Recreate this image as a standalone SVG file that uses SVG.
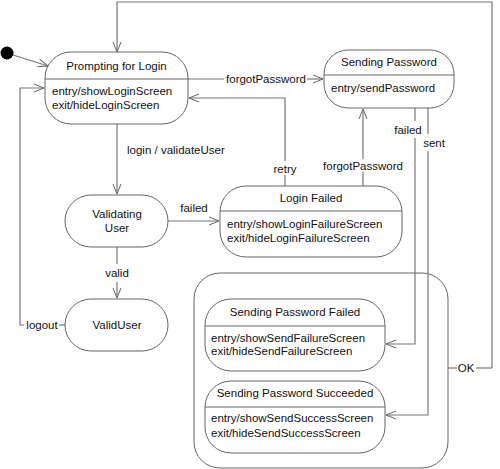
<svg xmlns="http://www.w3.org/2000/svg" width="500" height="469" viewBox="0 0 500 469">
<defs>
<marker id="arr" markerWidth="12" markerHeight="10" refX="11" refY="5" orient="auto" markerUnits="userSpaceOnUse">
<path d="M1,1 L11,5 L1,9" fill="none" stroke="#666" stroke-width="1"/>
</marker>
<style>
.box{fill:#fff;stroke:#666;stroke-width:1}
.div{stroke:#666;stroke-width:1}
.ln{fill:none;stroke:#777;stroke-width:1.2}
text{font-family:"Liberation Sans",Arial,sans-serif;font-size:11.5px;fill:#111}
.c{text-anchor:middle}
</style>
</defs>
<rect width="500" height="469" fill="#fff"/>

<g id="sendingContainer">
<rect class="box" x="194" y="273" width="254" height="195" rx="26" ry="26"/>
</g>

<g id="connectors">
<path class="ln" d="M13,55 L48,66" marker-end="url(#arr)"/>
<path class="ln" d="M492,368 L492,2 L117,2 L117,52" marker-end="url(#arr)"/>
<path class="ln" d="M476,368 L492,368"/>
<path class="ln" d="M448,368 L457,368"/>
<text class="c" x="466" y="372">OK</text>
<path class="ln" d="M188,79 L224,79"/>
<path class="ln" d="M307,79 L323,79" marker-end="url(#arr)"/>
<text class="c" x="266" y="83">forgotPassword</text>
<path class="ln" d="M285,186 L285,175"/>
<path class="ln" d="M285,161 L285,98 L189,98" marker-end="url(#arr)"/>
<text class="c" x="285" y="173">retry</text>
<path class="ln" d="M363,186 L363,172"/>
<path class="ln" d="M363,159 L363,109" marker-end="url(#arr)"/>
<text class="c" x="363" y="170">forgotPassword</text>
<path class="ln" d="M117,124 L117,194" marker-end="url(#arr)"/>
<text x="127" y="154">login / validateUser</text>
<path class="ln" d="M168,221 L219,221" marker-end="url(#arr)"/>
<text class="c" x="194" y="212">failed</text>
<path class="ln" d="M117,247 L117,264"/>
<path class="ln" d="M117,282 L117,298" marker-end="url(#arr)"/>
<text class="c" x="117" y="277">valid</text>
<path class="ln" d="M65,325 L59,325"/>
<path class="ln" d="M24,325 L20,325 L20,88 L44,88" marker-end="url(#arr)"/>
<text class="c" x="42" y="329">logout</text>
<path class="ln" d="M415,108 L415,121"/>
<path class="ln" d="M415,138 L415,344 L386,344" marker-end="url(#arr)"/>
<text class="c" x="408" y="134">failed</text>
<path class="ln" d="M428,108 L428,134"/>
<path class="ln" d="M428,151 L428,415 L386,415" marker-end="url(#arr)"/>
<text class="c" x="434" y="147">sent</text>
</g>

<g id="initial">
<circle cx="7" cy="53" r="6.5" fill="#000"/>
</g>

<g id="prompting">
<rect class="box" x="45" y="52" width="143" height="72" rx="26" ry="26"/>
<line class="div" x1="45" y1="79" x2="188" y2="79"/>
<text class="c" x="116.5" y="70">Prompting for Login</text>
<text x="52" y="95">entry/showLoginScreen</text>
<text x="52" y="109">exit/hideLoginScreen</text>
</g>

<g id="sendingPassword">
<rect class="box" x="324" y="50" width="130" height="58" rx="24" ry="24"/>
<line class="div" x1="324" y1="75" x2="454" y2="75"/>
<text class="c" x="389" y="66">Sending Password</text>
<text x="331" y="92">entry/sendPassword</text>
</g>

<g id="loginFailed">
<rect class="box" x="220" y="186" width="182" height="71" rx="26" ry="26"/>
<line class="div" x1="220" y1="211" x2="402" y2="211"/>
<text class="c" x="311" y="202">Login Failed</text>
<text x="227" y="228">entry/showLoginFailureScreen</text>
<text x="227" y="242">exit/hideLoginFailureScreen</text>
</g>

<g id="validating">
<rect class="box" x="65" y="195" width="103" height="52" rx="26" ry="26"/>
<text class="c" x="117" y="218">Validating</text>
<text class="c" x="117" y="232">User</text>
</g>

<g id="validUser">
<rect class="box" x="65" y="299" width="103" height="52" rx="26" ry="26"/>
<text class="c" x="117" y="329">ValidUser</text>
</g>

<g id="sendFailed">
<rect class="box" x="205" y="299" width="180" height="72" rx="26" ry="26"/>
<line class="div" x1="205" y1="326" x2="385" y2="326"/>
<text class="c" x="295" y="316">Sending Password Failed</text>
<text x="211" y="342">entry/showSendFailureScreen</text>
<text x="211" y="355">exit/hideSendFailureScreen</text>
</g>

<g id="sendSucceeded">
<rect class="box" x="205" y="381" width="180" height="72" rx="26" ry="26"/>
<line class="div" x1="205" y1="407" x2="385" y2="407"/>
<text class="c" x="295" y="397">Sending Password Succeeded</text>
<text x="211" y="422">entry/showSendSuccessScreen</text>
<text x="211" y="437">exit/hideSendSuccessScreen</text>
</g>
</svg>
